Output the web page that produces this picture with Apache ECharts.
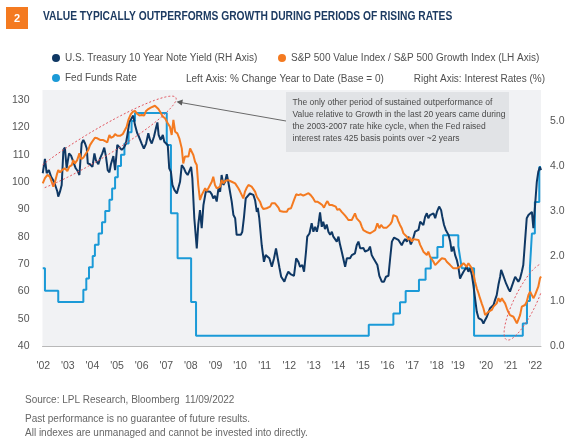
<!DOCTYPE html>
<html><head><meta charset="utf-8">
<script src="https://cdn.jsdelivr.net/npm/echarts@6/dist/echarts.min.js"></script>
<style>html,body{margin:0;padding:0;background:#fff}#c{width:571px;height:442px}</style>
</head><body><div id="c"></div>
<script>
const FONT = "'Liberation Sans',Arial,sans-serif";

// x axis tick labels (years; '19 sits slightly early in the original)
const xTickYears = [2002,2003,2004,2005,2006,2007,2008,2009,2010,2011,2012,2013,2014,2015,2016,2017,2018,2018.86,2020,2021,2022];

// U.S. Treasury 10 Year Note Yield (%), right axis  [year, value]
const treasuryYield = [[2001.98,3.84],[2002.07,4.16],[2002.14,3.84],[2002.23,3.91],[2002.32,3.76],[2002.38,3.80],[2002.44,3.65],[2002.52,3.69],[2002.57,3.44],[2002.61,3.32],[2002.68,3.43],[2002.75,3.58],[2002.82,4.36],[2002.88,4.41],[2002.95,3.95],[2003.05,4.28],[2003.13,4.23],[2003.22,4.10],[2003.32,3.95],[2003.40,3.89],[2003.47,3.80],[2003.56,4.50],[2003.63,4.58],[2003.70,4.50],[2003.77,4.39],[2003.81,4.06],[2003.90,4.04],[2004.00,3.98],[2004.08,4.28],[2004.14,4.13],[2004.24,4.04],[2004.31,4.17],[2004.40,4.28],[2004.48,4.41],[2004.55,4.21],[2004.62,3.91],[2004.69,3.86],[2004.75,4.04],[2004.85,4.22],[2004.92,3.91],[2005.01,4.47],[2005.08,4.43],[2005.19,4.36],[2005.28,4.41],[2005.36,4.50],[2005.42,4.69],[2005.50,4.98],[2005.60,5.07],[2005.66,5.12],[2005.73,4.91],[2005.82,4.73],[2005.89,4.65],[2006.00,4.50],[2006.09,4.39],[2006.18,4.50],[2006.27,4.73],[2006.34,4.58],[2006.41,4.50],[2006.50,4.65],[2006.58,4.84],[2006.64,4.97],[2006.69,4.69],[2006.77,4.58],[2006.86,4.69],[2006.92,4.54],[2006.99,4.50],[2007.06,4.47],[2007.12,3.95],[2007.19,3.87],[2007.25,3.58],[2007.33,3.47],[2007.43,3.39],[2007.49,3.36],[2007.56,3.65],[2007.63,4.02],[2007.72,3.95],[2007.79,3.86],[2007.87,3.80],[2007.94,3.82],[2008.01,3.98],[2008.06,3.73],[2008.14,2.84],[2008.24,2.17],[2008.30,2.69],[2008.37,3.02],[2008.44,2.62],[2008.51,3.13],[2008.61,3.44],[2008.69,3.47],[2008.78,3.43],[2008.85,3.37],[2008.91,3.28],[2008.98,3.34],[2009.05,3.21],[2009.12,3.50],[2009.19,3.43],[2009.25,3.80],[2009.32,3.58],[2009.39,3.65],[2009.46,3.82],[2009.52,3.65],[2009.59,3.62],[2009.66,3.21],[2009.73,2.91],[2009.80,2.84],[2009.86,2.47],[2009.93,2.43],[2010.03,2.47],[2010.09,2.54],[2010.16,2.87],[2010.23,3.28],[2010.31,3.32],[2010.40,3.39],[2010.47,3.43],[2010.54,3.36],[2010.61,3.24],[2010.68,2.98],[2010.72,3.07],[2010.78,2.84],[2010.88,2.24],[2010.97,1.87],[2011.04,2.02],[2011.12,2.06],[2011.19,1.95],[2011.29,1.76],[2011.38,1.95],[2011.46,2.17],[2011.53,1.95],[2011.60,1.74],[2011.67,1.54],[2011.73,1.58],[2011.80,1.43],[2011.87,1.54],[2011.96,1.65],[2012.07,1.59],[2012.19,1.56],[2012.28,1.95],[2012.37,1.87],[2012.44,1.76],[2012.53,1.80],[2012.60,1.65],[2012.68,2.10],[2012.73,2.43],[2012.82,2.50],[2012.91,2.73],[2012.98,2.54],[2013.05,2.65],[2013.12,2.54],[2013.18,2.69],[2013.25,2.97],[2013.32,2.65],[2013.38,2.76],[2013.45,2.60],[2013.52,2.70],[2013.59,2.54],[2013.66,2.47],[2013.73,2.54],[2013.79,2.43],[2013.86,2.47],[2013.93,2.32],[2014.00,2.43],[2014.06,2.26],[2014.13,2.10],[2014.20,2.06],[2014.27,1.76],[2014.34,1.95],[2014.40,1.91],[2014.47,1.95],[2014.54,2.02],[2014.60,1.98],[2014.67,2.06],[2014.74,2.24],[2014.81,2.32],[2014.88,2.17],[2014.95,2.13],[2015.01,2.18],[2015.08,2.10],[2015.15,2.06],[2015.21,2.13],[2015.28,2.21],[2015.35,2.02],[2015.42,1.95],[2015.49,1.91],[2015.58,1.80],[2015.66,1.56],[2015.76,1.43],[2015.85,1.43],[2015.93,1.54],[2016.03,1.56],[2016.10,1.95],[2016.17,2.32],[2016.26,2.41],[2016.34,2.41],[2016.43,2.36],[2016.50,2.38],[2016.57,2.24],[2016.64,2.32],[2016.71,2.38],[2016.78,2.32],[2016.84,2.43],[2016.94,2.26],[2017.02,2.36],[2017.11,2.54],[2017.25,2.58],[2017.32,2.76],[2017.39,2.80],[2017.45,2.69],[2017.52,2.87],[2017.59,2.95],[2017.65,2.84],[2017.72,2.91],[2017.79,2.87],[2017.86,2.95],[2017.93,2.84],[2018.00,2.98],[2018.09,3.10],[2018.17,3.02],[2018.22,2.87],[2018.29,2.69],[2018.36,2.58],[2018.43,2.62],[2018.47,2.47],[2018.54,2.32],[2018.60,2.10],[2018.67,2.21],[2018.74,2.02],[2018.81,1.91],[2018.87,1.76],[2018.94,1.50],[2019.01,1.58],[2019.08,1.65],[2019.15,1.69],[2019.21,1.76],[2019.28,1.65],[2019.35,1.73],[2019.42,1.58],[2019.48,1.36],[2019.55,1.06],[2019.62,0.76],[2019.69,0.62],[2019.75,0.62],[2019.82,0.58],[2019.89,0.50],[2019.96,0.58],[2020.03,0.65],[2020.09,0.69],[2020.16,0.84],[2020.23,0.87],[2020.30,0.91],[2020.36,1.02],[2020.43,1.13],[2020.50,1.36],[2020.57,1.54],[2020.61,1.69],[2020.66,1.62],[2020.74,1.58],[2020.81,1.39],[2020.90,1.28],[2020.97,1.21],[2021.04,1.32],[2021.11,1.43],[2021.18,1.54],[2021.25,1.50],[2021.31,1.43],[2021.38,1.50],[2021.45,1.65],[2021.51,1.80],[2021.58,2.32],[2021.65,2.84],[2021.72,2.91],[2021.79,2.87],[2021.86,2.98],[2021.92,2.62],[2021.99,3.13],[2022.06,3.65],[2022.12,3.87],[2022.19,3.98],[2022.23,3.91]];

// S&P 500 Value Index / S&P 500 Growth Index, left axis  [year, value]
const valueGrowthRatio = [[2001.98,99.5],[2002.07,101.4],[2002.17,102.6],[2002.27,101.9],[2002.34,100.1],[2002.41,98.3],[2002.48,100.1],[2002.55,102.6],[2002.61,104.4],[2002.68,103.5],[2002.77,104.4],[2002.88,105.0],[2002.98,104.0],[2003.06,105.6],[2003.16,106.2],[2003.22,108.0],[2003.29,106.8],[2003.38,108.0],[2003.47,110.5],[2003.54,108.4],[2003.63,108.9],[2003.74,110.5],[2003.83,111.7],[2003.90,113.5],[2003.97,114.5],[2004.04,115.0],[2004.10,116.2],[2004.20,116.0],[2004.31,115.4],[2004.42,115.4],[2004.51,115.0],[2004.60,114.5],[2004.69,117.2],[2004.75,116.2],[2004.85,116.6],[2004.92,117.5],[2005.01,116.9],[2005.12,116.9],[2005.23,117.5],[2005.32,119.0],[2005.39,120.2],[2005.46,122.7],[2005.56,124.8],[2005.64,125.7],[2005.73,126.0],[2005.80,125.1],[2005.91,124.3],[2006.00,124.5],[2006.10,124.3],[2006.18,126.0],[2006.27,126.7],[2006.37,127.2],[2006.45,127.5],[2006.54,127.9],[2006.61,127.5],[2006.68,126.7],[2006.75,125.7],[2006.86,123.9],[2006.95,123.3],[2007.06,121.5],[2007.15,120.2],[2007.22,117.2],[2007.29,122.7],[2007.36,118.4],[2007.45,117.8],[2007.53,116.0],[2007.63,112.3],[2007.69,106.8],[2007.76,109.3],[2007.83,109.9],[2007.90,109.3],[2007.97,112.3],[2008.04,111.7],[2008.10,109.9],[2008.17,107.4],[2008.24,106.2],[2008.30,98.9],[2008.37,93.4],[2008.44,95.2],[2008.51,95.9],[2008.58,97.7],[2008.64,96.7],[2008.71,97.7],[2008.78,98.3],[2008.85,100.1],[2008.91,101.9],[2008.98,98.9],[2009.05,97.7],[2009.12,97.7],[2009.19,98.3],[2009.25,100.7],[2009.32,99.5],[2009.39,100.4],[2009.46,100.4],[2009.52,100.7],[2009.59,100.7],[2009.66,100.1],[2009.73,99.9],[2009.80,99.5],[2009.86,98.9],[2009.93,97.7],[2010.00,96.5],[2010.07,95.2],[2010.13,94.0],[2010.20,96.5],[2010.27,97.9],[2010.34,98.9],[2010.41,98.9],[2010.47,98.3],[2010.54,97.4],[2010.61,96.5],[2010.68,94.6],[2010.74,94.0],[2010.81,92.8],[2010.88,91.0],[2010.95,90.1],[2011.01,89.8],[2011.08,90.4],[2011.15,89.8],[2011.22,91.0],[2011.29,92.2],[2011.35,91.8],[2011.42,92.2],[2011.49,91.6],[2011.56,90.6],[2011.62,89.4],[2011.69,90.1],[2011.76,89.1],[2011.83,89.8],[2011.90,89.1],[2011.96,90.1],[2012.07,90.4],[2012.19,93.4],[2012.28,95.5],[2012.37,95.2],[2012.47,95.5],[2012.57,95.0],[2012.68,95.5],[2012.78,95.9],[2012.87,95.2],[2012.95,94.3],[2013.05,92.8],[2013.14,92.8],[2013.25,92.2],[2013.34,91.6],[2013.41,90.6],[2013.49,92.2],[2013.55,93.0],[2013.63,91.6],[2013.73,91.6],[2013.79,91.3],[2013.89,91.0],[2013.95,89.8],[2014.04,90.1],[2014.13,89.1],[2014.20,88.9],[2014.27,87.7],[2014.34,86.9],[2014.40,86.1],[2014.47,86.7],[2014.54,86.1],[2014.60,86.5],[2014.67,88.5],[2014.74,86.7],[2014.81,86.1],[2014.88,85.3],[2014.95,83.6],[2015.01,82.4],[2015.08,81.8],[2015.17,81.6],[2015.28,81.2],[2015.39,81.8],[2015.49,82.4],[2015.58,84.9],[2015.66,83.1],[2015.73,84.3],[2015.82,83.3],[2015.89,82.8],[2015.96,83.3],[2016.03,83.1],[2016.10,84.5],[2016.17,85.5],[2016.23,87.9],[2016.30,88.5],[2016.37,87.3],[2016.43,85.7],[2016.50,84.3],[2016.57,83.1],[2016.64,81.2],[2016.71,80.6],[2016.78,80.0],[2016.84,78.8],[2016.91,79.6],[2016.98,78.2],[2017.04,79.1],[2017.11,78.4],[2017.25,78.8],[2017.32,77.0],[2017.39,75.7],[2017.45,74.5],[2017.52,73.9],[2017.59,73.3],[2017.65,74.5],[2017.72,72.7],[2017.79,72.1],[2017.86,70.8],[2017.93,69.6],[2018.00,69.0],[2018.06,70.8],[2018.13,71.5],[2018.20,72.1],[2018.26,71.5],[2018.33,71.8],[2018.40,70.8],[2018.47,70.3],[2018.54,69.6],[2018.60,69.0],[2018.67,68.4],[2018.74,69.0],[2018.81,68.4],[2018.87,68.6],[2018.94,69.0],[2019.01,69.6],[2019.08,70.3],[2019.15,70.3],[2019.21,69.0],[2019.28,70.3],[2019.35,69.6],[2019.42,68.4],[2019.48,66.6],[2019.55,63.5],[2019.62,61.1],[2019.69,59.3],[2019.75,57.5],[2019.82,55.6],[2019.89,53.8],[2019.96,51.3],[2020.03,52.0],[2020.09,52.5],[2020.16,52.0],[2020.23,53.2],[2020.30,54.4],[2020.36,53.8],[2020.43,55.6],[2020.50,57.5],[2020.57,56.2],[2020.64,57.5],[2020.70,56.5],[2020.77,55.6],[2020.84,53.8],[2020.90,52.5],[2020.97,51.3],[2021.04,52.0],[2021.11,50.7],[2021.18,50.1],[2021.25,48.3],[2021.31,47.7],[2021.38,51.3],[2021.45,54.4],[2021.51,54.4],[2021.58,55.0],[2021.65,56.2],[2021.72,58.7],[2021.79,59.9],[2021.86,59.3],[2021.92,57.5],[2021.99,58.7],[2022.06,59.3],[2022.12,61.7],[2022.19,64.8],[2022.23,65.4]];

// Fed Funds Rate (%), right axis; each point = level from that date on  [year, value]
const fedFundsRate = [[2001.98,1.73],[2002.07,1.23],[2002.61,0.98],[2003.63,1.25],[2003.75,1.5],[2003.86,1.75],[2004.01,2.0],[2004.10,2.25],[2004.25,2.5],[2004.39,2.75],[2004.52,3.0],[2004.69,3.25],[2004.80,3.5],[2004.92,3.75],[2005.03,4.0],[2005.16,4.25],[2005.30,4.5],[2005.47,4.75],[2005.59,5.0],[2005.73,5.18],[2007.02,4.47],[2007.19,2.95],[2007.46,1.95],[2008.01,0.98],[2008.21,0.23],[2015.23,0.47],[2016.23,0.72],[2016.50,0.97],[2016.73,1.22],[2017.27,1.47],[2017.54,1.72],[2017.75,1.96],[2018.02,2.2],[2018.25,2.46],[2018.87,2.22],[2018.94,1.97],[2019.01,1.73],[2019.51,0.23],[2021.49,0.5],[2021.66,1.0],[2021.78,1.75],[2021.86,2.5],[2021.98,3.2],[2022.16,3.98],[2022.23,3.98]];

const N_TSY = 'U.S. Treasury 10 Year Note Yield (RH Axis)';
const N_RATIO = 'S&P 500 Value Index / S&P 500 Growth Index (LH Axis)';
const N_FED = 'Fed Funds Rate';

const C_NAVY = '#0f3864', C_ORANGE = '#f47a20', C_BLUE = '#1b9ad7';

function ellipseSegments(cx, cy, rx, ry, deg, xmin, xmax) {
  const a = deg * Math.PI / 180, segs = []; let cur = [];
  const N = 160;
  for (let i = 0; i <= N; i++) {
    const t = i / N * 2 * Math.PI, ex = rx * Math.cos(t), ey = ry * Math.sin(t);
    const x = cx + ex * Math.cos(a) + ey * Math.sin(a);
    const y = cy - ex * Math.sin(a) + ey * Math.cos(a);
    if (x >= xmin && x <= xmax) cur.push([x, y]);
    else if (cur.length) { segs.push({pts: cur, end: false}); cur = []; }
  }
  if (cur.length) segs.push({pts: cur, end: true});
  if (segs.length > 1 && segs[segs.length - 1].end) {
    const last = segs.pop(); segs[0].pts = last.pts.concat(segs[0].pts);
  }
  return segs.map(s => s.pts);
}
const dashStyle = {stroke: '#e2535c', lineWidth: 1, lineDash: [2, 2], fill: null};
const ellipseEls = []
  .concat(ellipseSegments(97, 145, 92, 14, 31, 42.5, 541))
  .concat(ellipseSegments(525, 302, 42, 11, 64, 42.5, 541))
  .map(p => ({type: 'polyline', shape: {points: p}, style: dashStyle, z: 50}));

const txt = (x, y, text, font, fill, align, extra) => Object.assign({
  type: 'text', x, y, z: 60,
  style: {text, font, fill, textAlign: align || 'left', align: align || 'left', textVerticalAlign: 'middle', verticalAlign: 'middle'}
}, extra || {});

const chart = echarts.init(document.getElementById('c'), null, {renderer: 'canvas'});
const legendCommon = {icon: 'circle', itemWidth: 8, itemHeight: 8, padding: 0, selectedMode: false,
  textStyle: {color: '#505050', fontSize: 10, fontFamily: FONT}};
const axisFont = {color: '#555', fontSize: 10.5, fontFamily: FONT};

chart.setOption({
  animation: false,
  backgroundColor: '#ffffff',
  legend: [
    Object.assign({data: [N_TSY], left: 52, top: 53}, legendCommon),
    Object.assign({data: [N_RATIO], left: 278, top: 53}, legendCommon),
    Object.assign({data: [N_FED], left: 52, top: 73}, legendCommon)
  ],
  grid: {left: 42.5, right: 30, top: 90, bottom: 96, show: true, backgroundColor: '#f1f2f4', borderWidth: 0},
  xAxis: {
    type: 'value', min: 2001.97, max: 2022.23,
    axisLine: {show: true, onZero: false, lineStyle: {color: '#b8b8b8', width: 1}},
    axisTick: {show: false}, splitLine: {show: false},
    axisLabel: Object.assign({customValues: xTickYears, formatter: v => "'" + String(Math.round(v)).slice(2), margin: 15}, axisFont)
  },
  yAxis: [
    {type: 'value', position: 'left', min: 40, max: 133.66, interval: 10,
      axisLine: {show: false}, axisTick: {show: false}, splitLine: {show: false},
      axisLabel: Object.assign({margin: 13, showMaxLabel: false}, axisFont)},
    {type: 'value', position: 'right', min: 0, max: 5.69, interval: 1,
      axisLine: {show: false}, axisTick: {show: false}, splitLine: {show: false},
      axisLabel: Object.assign({margin: 9, showMaxLabel: false, formatter: v => v.toFixed(1)}, axisFont)}
  ],
  series: [
    {name: N_FED, type: 'line', yAxisIndex: 1, step: 'end', data: fedFundsRate, showSymbol: false,
      color: C_BLUE, lineStyle: {color: C_BLUE, width: 2}, z: 2},
    {name: N_TSY, type: 'line', yAxisIndex: 1, data: treasuryYield, showSymbol: false,
      color: C_NAVY, lineStyle: {color: C_NAVY, width: 2}, z: 3},
    {name: N_RATIO, type: 'line', yAxisIndex: 0, data: valueGrowthRatio, showSymbol: false,
      color: C_ORANGE, lineStyle: {color: C_ORANGE, width: 2}, z: 4}
  ],
  graphic: {elements: [
    {type: 'rect', x: 6, y: 7, shape: {width: 22, height: 22}, style: {fill: '#f47a20'}, z: 60},
    txt(17, 18.5, '2', "bold 11px " + FONT, '#ffffff', 'center'),
    txt(43, 17, 'VALUE TYPICALLY OUTPERFORMS GROWTH DURING PERIODS OF RISING RATES', "bold 12.5px " + FONT, '#1d3b62', 'left', {scaleX: 0.82}),
    txt(186, 79, 'Left Axis: % Change Year to Date (Base = 0)', "10px " + FONT, '#505050'),
    txt(545, 79, 'Right Axis: Interest Rates (%)', "10px " + FONT, '#505050', 'right'),
    {type: 'rect', x: 286, y: 92, shape: {width: 223, height: 60}, style: {fill: '#e1e3e6'}, z: 55},
    {type: 'text', x: 292.5, y: 97, z: 60, style: {
      text: 'The only other period of sustained outperformance of\nValue relative to Growth in the last 20 years came during\nthe 2003-2007 rate hike cycle, when the Fed raised\ninterest rates 425 basis points over ~2 years',
      font: "8.5px " + FONT, fill: '#4a4a4a', lineHeight: 12, textVerticalAlign: 'top', verticalAlign: 'top'}},
    {type: 'line', shape: {x1: 286, y1: 121, x2: 180, y2: 102.4}, style: {stroke: '#6a6a6a', lineWidth: 1}, z: 56},
    {type: 'polygon', shape: {points: [[176.5, 101.7], [182.9, 99.6], [181.8, 105.6]]}, style: {fill: '#5a5a5a'}, z: 56},
    txt(25, 400, 'Source: LPL Research, Bloomberg  11/09/2022', "10px " + FONT, '#666666'),
    txt(25, 419, 'Past performance is no guarantee of future results.', "10px " + FONT, '#666666'),
    txt(25, 433, 'All indexes are unmanaged and cannot be invested into directly.', "10px " + FONT, '#666666')
  ].concat(ellipseEls)}
});
</script></body></html>
